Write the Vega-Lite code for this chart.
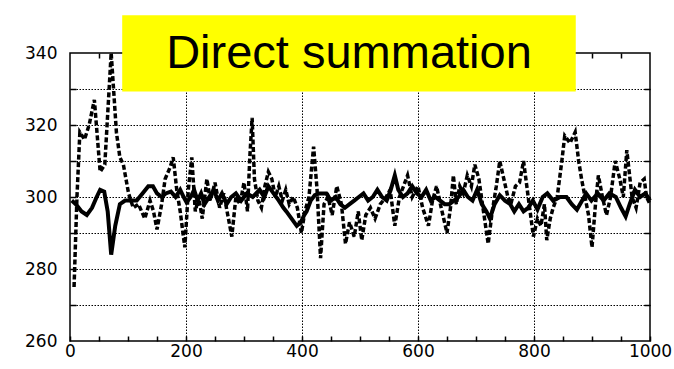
{
  "$schema": "https://vega.github.io/schema/vega-lite/v6.json",
  "width": 580,
  "height": 288,
  "autosize": "none",
  "padding": {"left": 70, "top": 53, "right": 24, "bottom": 28},
  "background": "white",
  "config": {
    "view": {"stroke": "black", "strokeWidth": 1.5},
    "axis": {
      "labelFont": "DejaVu Sans", "labelFontSize": 17, "labelColor": "black",
      "domain": false, "gridColor": "black", "gridDash": [1.5, 1.5], "gridWidth": 1, "gridOpacity": 1,
      "tickColor": "black", "tickWidth": 1.5, "title": null
    }
  },
  "resolve": {"axis": {"x": "independent", "y": "independent"}},
  "datasets": {
    "dashed": [
      {"t":7,"v":275},{"t":12,"v":300},{"t":17,"v":318},{"t":25,"v":316},{"t":33,"v":320},{"t":42,"v":327},{"t":52,"v":307},{"t":60,"v":309},{"t":71,"v":340},{"t":80,"v":318},{"t":86,"v":311},{"t":92,"v":309},{"t":101,"v":301},{"t":109,"v":297},{"t":118,"v":298},{"t":129,"v":294},{"t":138,"v":299},{"t":144,"v":296},{"t":150,"v":291},{"t":158,"v":298},{"t":164,"v":305},{"t":172,"v":308},{"t":178,"v":311},{"t":184,"v":302},{"t":190,"v":296},{"t":198,"v":286},{"t":204,"v":302},{"t":210,"v":311},{"t":216,"v":296},{"t":222,"v":300},{"t":228,"v":294},{"t":236,"v":305},{"t":242,"v":299},{"t":250,"v":304},{"t":258,"v":297},{"t":265,"v":301},{"t":272,"v":295},{"t":279,"v":289},{"t":286,"v":300},{"t":293,"v":298},{"t":300,"v":304},{"t":306,"v":296},{"t":310,"v":311},{"t":314,"v":322},{"t":318,"v":305},{"t":324,"v":299},{"t":330,"v":297},{"t":336,"v":303},{"t":342,"v":307},{"t":348,"v":305},{"t":354,"v":300},{"t":360,"v":303},{"t":366,"v":299},{"t":372,"v":302},{"t":378,"v":298},{"t":385,"v":300},{"t":392,"v":297},{"t":399,"v":290},{"t":405,"v":296},{"t":412,"v":300},{"t":420,"v":314},{"t":426,"v":302},{"t":432,"v":283},{"t":438,"v":298},{"t":445,"v":300},{"t":452,"v":295},{"t":460,"v":303},{"t":468,"v":298},{"t":475,"v":287},{"t":482,"v":293},{"t":490,"v":289},{"t":497,"v":296},{"t":503,"v":288},{"t":510,"v":295},{"t":518,"v":297},{"t":526,"v":294},{"t":535,"v":298},{"t":545,"v":300},{"t":552,"v":302},{"t":560,"v":292},{"t":568,"v":300},{"t":575,"v":303},{"t":582,"v":306},{"t":590,"v":300},{"t":600,"v":303},{"t":608,"v":297},{"t":618,"v":292},{"t":625,"v":299},{"t":632,"v":303},{"t":640,"v":297},{"t":650,"v":290},{"t":656,"v":297},{"t":661,"v":306},{"t":666,"v":298},{"t":672,"v":303},{"t":678,"v":301},{"t":685,"v":306},{"t":692,"v":303},{"t":698,"v":309},{"t":705,"v":305},{"t":712,"v":297},{"t":721,"v":287},{"t":728,"v":296},{"t":735,"v":303},{"t":741,"v":310},{"t":748,"v":305},{"t":755,"v":300},{"t":760,"v":298},{"t":768,"v":303},{"t":775,"v":304},{"t":782,"v":310},{"t":790,"v":300},{"t":799,"v":289},{"t":806,"v":294},{"t":812,"v":292},{"t":818,"v":298},{"t":822,"v":288},{"t":828,"v":294},{"t":833,"v":297},{"t":840,"v":300},{"t":848,"v":310},{"t":853,"v":317},{"t":862,"v":315},{"t":871,"v":318},{"t":877,"v":310},{"t":882,"v":305},{"t":888,"v":300},{"t":894,"v":295},{"t":900,"v":286},{"t":906,"v":298},{"t":911,"v":306},{"t":918,"v":300},{"t":925,"v":295},{"t":932,"v":300},{"t":940,"v":310},{"t":948,"v":305},{"t":954,"v":300},{"t":960,"v":313},{"t":969,"v":300},{"t":976,"v":297},{"t":983,"v":304},{"t":990,"v":305},{"t":994,"v":300},{"t":1000,"v":298}
    ],
    "solid": [
      {"t":3,"v":299},{"t":10,"v":298},{"t":20,"v":296},{"t":29,"v":295},{"t":38,"v":297},{"t":46,"v":300},{"t":52,"v":302},{"t":59,"v":301.5},{"t":65,"v":296},{"t":71,"v":284},{"t":78,"v":292},{"t":86,"v":298},{"t":95,"v":299},{"t":106,"v":299},{"t":115,"v":299},{"t":125,"v":301},{"t":135,"v":303},{"t":143,"v":303},{"t":150,"v":301},{"t":158,"v":300},{"t":165,"v":301},{"t":174,"v":301.5},{"t":182,"v":300},{"t":190,"v":302},{"t":196,"v":300},{"t":201,"v":298.5},{"t":208,"v":300},{"t":214,"v":302},{"t":220,"v":299},{"t":226,"v":301},{"t":232,"v":298},{"t":240,"v":300},{"t":248,"v":302},{"t":255,"v":299},{"t":262,"v":301},{"t":270,"v":298},{"t":278,"v":300},{"t":286,"v":301},{"t":295,"v":299},{"t":305,"v":301},{"t":315,"v":300},{"t":327,"v":302},{"t":335,"v":300},{"t":342,"v":303},{"t":351,"v":301},{"t":360,"v":299},{"t":368,"v":297},{"t":373,"v":296},{"t":382,"v":294},{"t":391,"v":292},{"t":398,"v":293},{"t":404,"v":295},{"t":408,"v":296},{"t":415,"v":299},{"t":422,"v":300.5},{"t":430,"v":301},{"t":442,"v":301},{"t":450,"v":299},{"t":458,"v":300},{"t":466,"v":298},{"t":474,"v":297},{"t":482,"v":298},{"t":490,"v":299},{"t":498,"v":300},{"t":506,"v":301},{"t":514,"v":299},{"t":522,"v":300},{"t":530,"v":302},{"t":538,"v":300},{"t":546,"v":299},{"t":553,"v":302},{"t":560,"v":306},{"t":566,"v":302},{"t":574,"v":300},{"t":582,"v":301},{"t":590,"v":303},{"t":598,"v":301},{"t":606,"v":300},{"t":614,"v":302},{"t":622,"v":299},{"t":630,"v":300},{"t":638,"v":299},{"t":646,"v":298},{"t":654,"v":298},{"t":662,"v":299},{"t":670,"v":300},{"t":678,"v":302},{"t":686,"v":300},{"t":694,"v":299},{"t":702,"v":302},{"t":710,"v":298},{"t":718,"v":296},{"t":724,"v":294},{"t":732,"v":298},{"t":741,"v":300.5},{"t":750,"v":299},{"t":759,"v":298},{"t":766,"v":296},{"t":774,"v":298},{"t":782,"v":296},{"t":790,"v":297},{"t":798,"v":299},{"t":806,"v":296.5},{"t":815,"v":300},{"t":823,"v":301},{"t":833,"v":299},{"t":845,"v":300},{"t":856,"v":300},{"t":865,"v":298},{"t":874,"v":296.5},{"t":883,"v":299},{"t":890,"v":301},{"t":899,"v":299},{"t":910,"v":301},{"t":920,"v":299},{"t":930,"v":301},{"t":941,"v":300},{"t":950,"v":297},{"t":958,"v":294.6},{"t":965,"v":298},{"t":974,"v":302},{"t":983,"v":300},{"t":992,"v":301},{"t":1000,"v":299}
    ],
    "title": [{"label": "Direct summation", "x0": 90, "x1": 872, "y0": 329.3, "y1": 350.5, "xc": 481, "yc": 339.6}]
  },
  "layer": [
    {
      "data": {"name": "dashed"},
      "mark": {"type": "line", "color": "black", "strokeWidth": 3.5, "strokeDash": [5, 2.5], "clip": false},
      "encoding": {
        "x": {"field": "t", "type": "quantitative",
              "scale": {"domain": [0, 1000], "nice": false},
              "axis": {"orient": "bottom",
                       "values": [0,50,100,150,200,250,300,350,400,450,500,550,600,650,700,750,800,850,900,950,1000],
                       "format": "d",
                       "labelExpr": "datum.value % 200 == 0 ? datum.label : ''",
                       "grid": true,
                       "gridOpacity": {"condition": {"test": "datum.value % 200 == 0 && datum.value > 0 && datum.value < 1000", "value": 1}, "value": 0},
                       "tickSize": -5, "labelPadding": 7, "labelFlush": false}},
        "y": {"field": "v", "type": "quantitative",
              "scale": {"domain": [260, 340], "nice": false},
              "axis": {"orient": "left", "values": [270,280,290,300,310,320,330],
                       "labels": false, "grid": true, "tickSize": -6}}
      }
    },
    {
      "data": {"name": "solid"},
      "mark": {"type": "line", "color": "black", "strokeWidth": 4, "clip": false},
      "encoding": {
        "x": {"field": "t", "type": "quantitative",
              "axis": {"orient": "top",
                       "values": [50,100,150,200,250,300,350,400,450,500,550,600,650,700,750,800,850,900,950],
                       "labels": false, "grid": false, "tickSize": -5}},
        "y": {"field": "v", "type": "quantitative",
              "axis": {"orient": "left", "values": [260,280,300,320,340],
                       "grid": false, "ticks": false, "labelPadding": 13}}
      }
    },
    {
      "data": {"name": "title"},
      "mark": {"type": "rect", "color": "#ffff00", "clip": false},
      "encoding": {
        "x": {"field": "x0", "type": "quantitative", "axis": null},
        "x2": {"field": "x1"},
        "y": {"field": "y0", "type": "quantitative",
              "axis": {"orient": "right", "values": [270,280,290,300,310,320,330],
                       "labels": false, "grid": false, "tickSize": -6}},
        "y2": {"field": "y1"}
      }
    },
    {
      "data": {"name": "title"},
      "mark": {"type": "text", "font": "Liberation Sans", "fontSize": 47, "color": "black", "baseline": "middle", "align": "center", "clip": false},
      "encoding": {
        "x": {"field": "xc", "type": "quantitative", "axis": null},
        "y": {"field": "yc", "type": "quantitative", "axis": null},
        "text": {"field": "label"}
      }
    }
  ]
}
